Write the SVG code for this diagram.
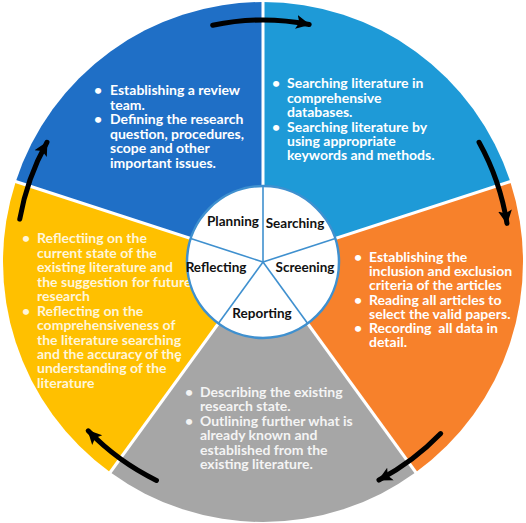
<svg xmlns="http://www.w3.org/2000/svg" width="526" height="523" viewBox="0 0 526 523">
<defs>
<style>
.body{font-family:Lato,"Liberation Sans",sans-serif;font-weight:bold;font-size:14px;fill:#ffffff}
.refl{fill:#FFF6DA}
.rep{fill:#F4F4F4}
.lbl{font-family:Lato,"Liberation Sans",sans-serif;font-weight:bold;font-size:13.5px;fill:#111111;text-anchor:middle}
.sep{stroke:#ffffff;stroke-width:3}
.div{stroke:#3F90CF;stroke-width:1.6}
.arr{fill:none;stroke:#000000;stroke-width:5;stroke-linecap:round;marker-end:url(#ah)}
</style>
<marker id="ah" markerUnits="userSpaceOnUse" markerWidth="16" markerHeight="16" refX="13" refY="8" orient="auto">
<path d="M0,1 L14,8 L0,15 L3,8 Z" fill="#000000"/>
</marker>
</defs>
<rect width="526" height="523" fill="#ffffff"/>
<g id="sector-planning">
<path d="M263,262 L15.72,181.66 A260,260 0 0 1 263,2 Z" fill="#1F6FC6"/>
<text class="body" x="94" y="95">•</text>
<text class="body" x="110" y="95">Establishing a review</text>
<text class="body" x="110" y="109.5">team.</text>
<text class="body" x="94" y="124">•</text>
<text class="body" x="110" y="124">Defining the research</text>
<text class="body" x="110" y="138.5">question, procedures,</text>
<text class="body" x="110" y="153">scope and other</text>
<text class="body" x="110" y="167.5">important issues.</text>
</g>
<g id="sector-searching">
<path d="M263,262 L263,2 A260,260 0 0 1 510.28,181.66 Z" fill="#1E9AD7"/>
<text class="body" x="272" y="88">•</text>
<text class="body" x="287" y="88">Searching literature in</text>
<text class="body" x="287" y="102.5">comprehensive</text>
<text class="body" x="287" y="117">databases.</text>
<text class="body" x="272" y="131.5">•</text>
<text class="body" x="287" y="131.5">Searching literature by</text>
<text class="body" x="287" y="146">using appropriate</text>
<text class="body" x="287" y="160">keywords and methods.</text>
</g>
<g id="sector-screening">
<path d="M263,262 L510.28,181.66 A260,260 0 0 1 415.82,472.34 Z" fill="#F7812B"/>
<text class="body" x="354" y="262">•</text>
<text class="body" x="369" y="262">Establishing the</text>
<text class="body" x="369" y="276">inclusion and exclusion</text>
<text class="body" x="369" y="290">criteria of the articles</text>
<text class="body" x="354" y="304.5">•</text>
<text class="body" x="369" y="304.5">Reading all articles to</text>
<text class="body" x="369" y="319">select the valid papers.</text>
<text class="body" x="354" y="333">•</text>
<text class="body" x="369" y="333" xml:space="preserve">Recording  all data in</text>
<text class="body" x="369" y="347">detail.</text>
</g>
<g id="sector-reporting">
<path d="M263,262 L415.82,472.34 A260,260 0 0 1 110.18,472.34 Z" fill="#A6A6A6"/>
<text class="body rep" x="185" y="397">•</text>
<text class="body rep" x="200" y="397">Describing the existing</text>
<text class="body rep" x="200" y="411">research state.</text>
<text class="body rep" x="185" y="426">•</text>
<text class="body rep" x="200" y="426">Outlining further what is</text>
<text class="body rep" x="200" y="440">already known and</text>
<text class="body rep" x="200" y="455">established from the</text>
<text class="body rep" x="200" y="469">existing literature.</text>
</g>
<g id="sector-reflecting">
<path d="M263,262 L110.18,472.34 A260,260 0 0 1 15.72,181.66 Z" fill="#FFC000"/>
<text class="body refl" x="22" y="243">•</text>
<text class="body refl" x="37" y="243">Reflectiing on the</text>
<text class="body refl" x="37" y="257.5">current state of the</text>
<text class="body refl" x="37" y="272">existing literature and</text>
<text class="body refl" x="37" y="286.5">the suggestion for future</text>
<text class="body refl" x="37" y="301">research</text>
<text class="body refl" x="22" y="315.5">•</text>
<text class="body refl" x="37" y="315.5">Reflecting on the</text>
<text class="body refl" x="37" y="330">comprehensiveness of</text>
<text class="body refl" x="37" y="344.5">the literature searching</text>
<text class="body refl" x="37" y="359">and the accuracy of the</text>
<text class="body refl" x="37" y="373">understanding of the</text>
<text class="body refl" x="37" y="387.5">literature</text>
<circle cx="178" cy="360" r="2" fill="#FFF6DA"/>
</g>
<g id="separators">
<line class="sep" x1="263" y1="262" x2="263" y2="0"/>
<line class="sep" x1="263" y1="262" x2="512" y2="181"/>
<line class="sep" x1="263" y1="262" x2="417" y2="474"/>
<line class="sep" x1="263" y1="262" x2="109" y2="474"/>
<line class="sep" x1="263" y1="262" x2="14" y2="181"/>
</g>
<g id="hub">
<circle cx="263" cy="262" r="76" fill="#ffffff" stroke="#3F90CF" stroke-width="2.5"/>
<line class="div" x1="263" y1="262" x2="263" y2="186"/>
<line class="div" x1="263" y1="262" x2="335.28" y2="238.51"/>
<line class="div" x1="263" y1="262" x2="307.67" y2="323.49"/>
<line class="div" x1="263" y1="262" x2="218.33" y2="323.49"/>
<line class="div" x1="263" y1="262" x2="190.72" y2="238.51"/>
<text class="lbl" x="233" y="226">Planning</text>
<text class="lbl" x="295" y="228">Searching</text>
<text class="lbl" x="305" y="272">Screening</text>
<text class="lbl" x="216" y="272">Reflecting</text>
<text class="lbl" x="262" y="318">Reporting</text>
</g>
<g id="connectors">
<path class="arr" d="M212.69,25.30 A242,242 0 0 1 309.17,24.44"/>
<path class="arr" d="M479.03,142.26 A247,247 0 0 1 506.96,223.36"/>
<path class="arr" d="M440.68,433.59 A247,247 0 0 1 378.96,480.08"/>
<path class="arr" d="M156.47,480.41 A243,243 0 0 1 88.2,430.8"/>
<path class="arr" d="M19.76,219.11 A247,247 0 0 1 46.97,142.25"/>
</g>
</svg>
